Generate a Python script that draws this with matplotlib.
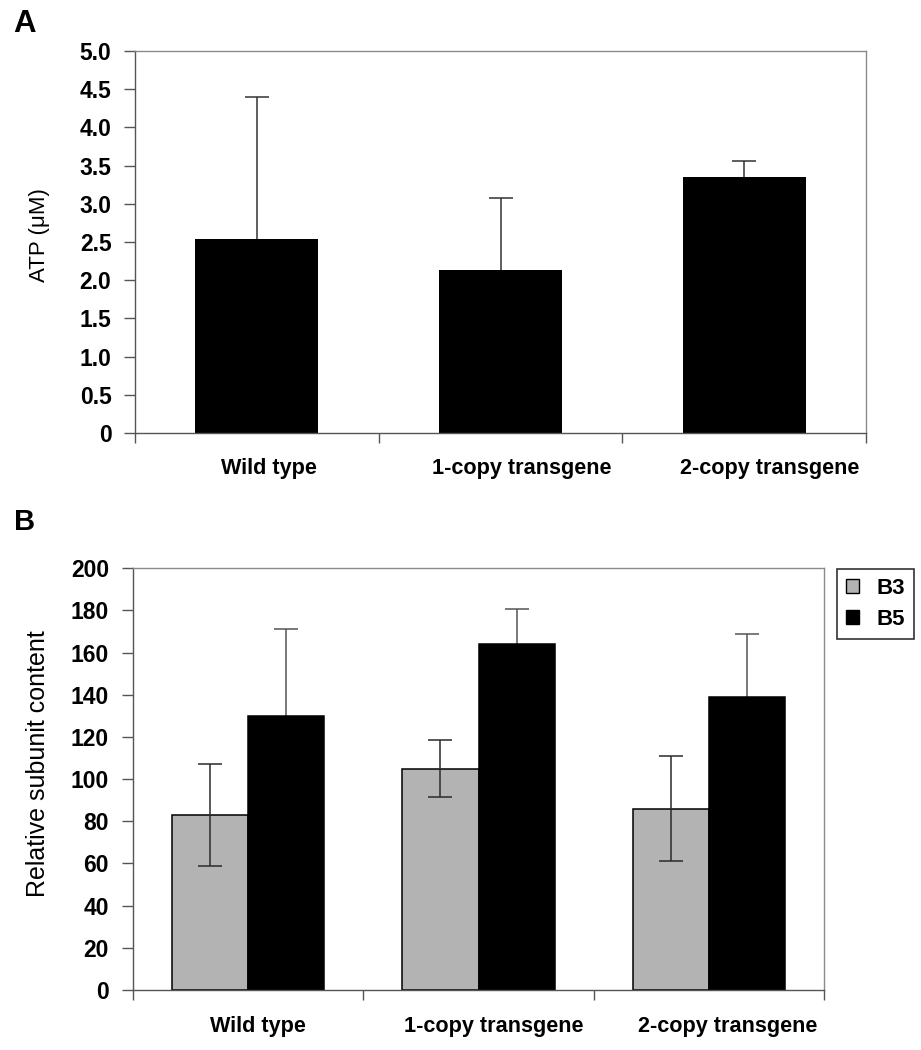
import matplotlib
matplotlib.use("Agg")
import matplotlib.pyplot as plt
import numpy as np
from matplotlib.patches import Patch, Rectangle
import matplotlib.transforms as mtransforms

plt.rcParams['font.family'] = ['Liberation Sans', 'DejaVu Sans']

# ---- Data ----
categories = ["Wild type", "1-copy transgene", "2-copy transgene"]
atp_values = [2.54, 2.14, 3.35]
atp_err = [1.86, 0.93, 0.21]

series_names = ["B3", "B5"]
b3_values = [83, 105, 86]
b3_err = [24, 13.5, 25]
b5_values = [130, 164, 139]
b5_err = [41, 16.5, 30]

atp_ticks = [0, 0.5, 1.0, 1.5, 2.0, 2.5, 3.0, 3.5, 4.0, 4.5, 5.0]
atp_ticklabels = ["0", "0.5", "1.0", "1.5", "2.0", "2.5", "3.0", "3.5", "4.0", "4.5", "5.0"]
sub_ticks = list(range(0, 201, 20))

GRAY = '#b3b3b3'
SPINE_DARK = '#555555'
SPINE_LIGHT = '#8a8a8a'
W, H = 921, 1050

fig = plt.figure(figsize=(W / 100, H / 100), dpi=100)

def px_axes(l, r, t, b):
    return [l / W, (H - b) / H, (r - l) / W, (b - t) / H]

def style_axes(ax):
    for s in ['top', 'right']:
        ax.spines[s].set_color(SPINE_LIGHT)
        ax.spines[s].set_linewidth(1.0)
    for s in ['left', 'bottom']:
        ax.spines[s].set_color(SPINE_DARK)
        ax.spines[s].set_linewidth(1.0)
    ax.tick_params(axis='y', direction='out', length=8, width=1.0, color=SPINE_DARK,
                   labelsize=16.5, pad=9)
    for lab in ax.get_yticklabels():
        lab.set_fontweight('bold')
    ax.set_xticks([-0.5, 0.5, 1.5, 2.5])
    ax.set_xticklabels([])
    ax.tick_params(axis='x', direction='out', length=7, width=1.0, color=SPINE_DARK)

def cat_labels(ax, offsets_px, top_gap_px):
    for i, (lab, dx) in enumerate(zip(categories, offsets_px)):
        tr = ax.get_xaxis_transform() + mtransforms.ScaledTranslation(
            dx / 100, -top_gap_px / 100, fig.dpi_scale_trans)
        ax.text(i, 0, lab, transform=tr, ha='center', va='top',
                fontsize=15.6, fontweight='bold')

x = np.arange(len(categories))

# ---- Panel A ----
axA = fig.add_axes(px_axes(135, 866, 51, 433))
axA.bar(x, atp_values, width=0.505, color='black', edgecolor='black', linewidth=0, zorder=2)
axA.errorbar(x, atp_values, yerr=atp_err, fmt='none',
             ecolor='#333333', elinewidth=1.1, capsize=8.5, capthick=1.1, zorder=1)
axA.set_xlim(-0.5, 2.5)
axA.set_ylim(0, 5.0)
axA.set_yticks(atp_ticks)
axA.set_yticklabels(atp_ticklabels)
style_axes(axA)
cat_labels(axA, [12, 21.5, 26], 25)

# ---- Panel B ----
axB = fig.add_axes(px_axes(132.7, 824.3, 568.3, 990))
w = 0.33
axB.bar(x - w / 2, b3_values, width=w, color=GRAY, edgecolor='black', linewidth=1.1,
        label=series_names[0], zorder=2)
axB.bar(x + w / 2, b5_values, width=w, color='black', edgecolor='black', linewidth=1.1,
        label=series_names[1], zorder=2)
axB.errorbar(x - w / 2, b3_values, yerr=b3_err, fmt='none', ecolor='#2a2a2a',
             elinewidth=1.1, capsize=8.5, capthick=1.1, zorder=3)
axB.errorbar(x + w / 2, b5_values, yerr=b5_err, fmt='none', ecolor='#555555',
             elinewidth=1.1, capsize=8.5, capthick=1.1, zorder=1)
axB.set_xlim(-0.5, 2.5)
axB.set_ylim(0, 200)
axB.set_yticks(sub_ticks)
style_axes(axB)
cat_labels(axB, [9.6, 15, 19], 26)

# Y labels
fig.text(40 / W, 1 - 235 / H, "ATP (\u03bcM)", rotation=90, ha='center', va='center',
         fontsize=16)
fig.text(38 / W, 1 - 764 / H, "Relative subunit content", rotation=90, ha='center',
         va='center', fontsize=18)

handles = [Patch(facecolor=GRAY, edgecolor='black', linewidth=1.0),
           Patch(facecolor='black', edgecolor='black', linewidth=1.0)]
leg = fig.legend(handles, series_names, loc='upper left',
                 bbox_to_anchor=(836.7 / W, 1 - 569.3 / H),
                 bbox_transform=fig.transFigure, frameon=True, fancybox=False,
                 edgecolor='black', fontsize=16, handlelength=0.6, handleheight=0.6,
                 handletextpad=0.8, borderpad=0.4, labelspacing=0.45, borderaxespad=0)
leg.get_frame().set_linewidth(1.2)
for t in leg.get_texts():
    t.set_fontweight('bold')

# Panel letters
fig.text(25 / W, 1 - 23.5 / H, "A", fontsize=22.5, fontweight='bold', va='center', ha='center')
fig.text(25 / W, 1 - 522.5 / H, "B", fontsize=21, fontweight='bold', va='center', ha='center')

# Reference image is cropped just below the bottom labels
fig.patches.append(Rectangle((0, 0), 1, 12 / H, transform=fig.transFigure,
                             facecolor='white', edgecolor='none', zorder=10))

fig.savefig("out.png", dpi=100, facecolor='white')
